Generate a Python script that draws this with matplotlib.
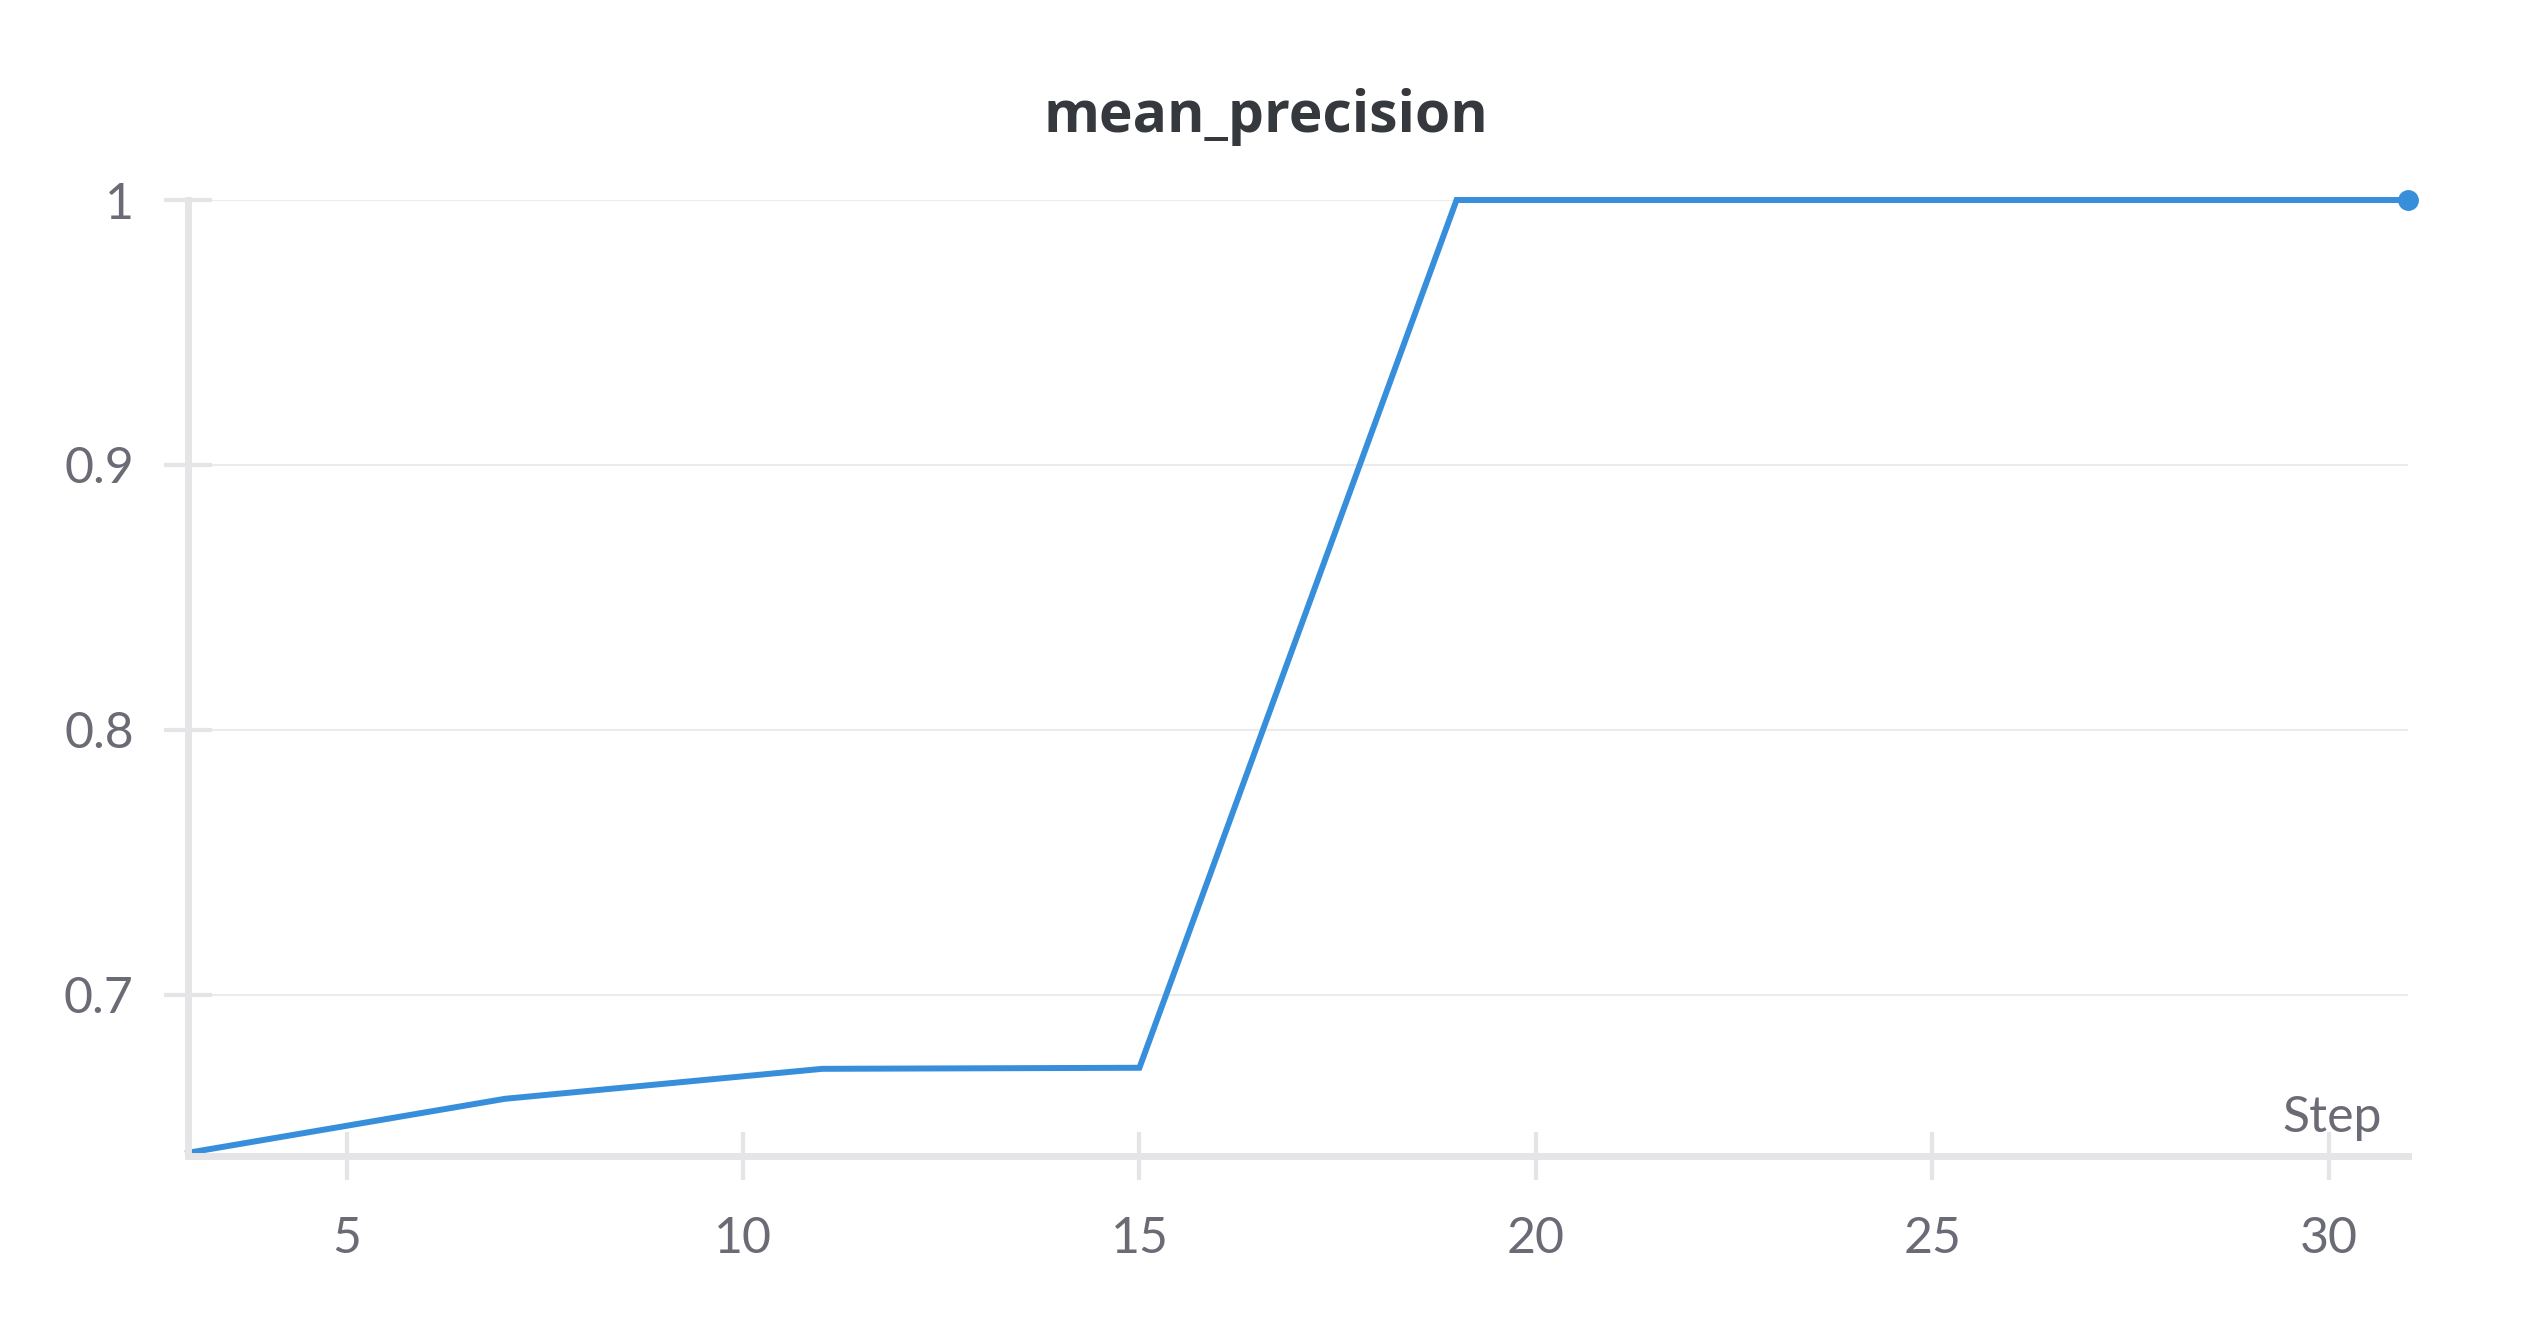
import matplotlib
matplotlib.use("Agg")
import matplotlib.pyplot as plt

# values
steps = [3, 7, 11, 15, 19, 23, 27, 31]
mean_precision = [0.6404, 0.6608, 0.6721, 0.6725, 1.0, 1.0, 1.0, 1.0]
x_ticks = [5, 10, 15, 20, 25, 30]
y_ticks = [0.7, 0.8, 0.9, 1.0]
y_tick_labels = ["0.7", "0.8", "0.9", "1"]

LINE = '#378fdb'
AXIS = '#e5e5e8'
GRID = '#ebebed'
TEXT = '#6b6b76'
TITLE = '#35383d'


def main() -> None:
    fig = plt.figure(figsize=(25.28, 13.28), dpi=100)
    ax = fig.add_axes([188 / 2528, 1 - 1156 / 1328, 2220 / 2528, 956 / 1328])

    ax.plot(steps, mean_precision, color=LINE, linewidth=4.3, clip_on=False,
            solid_joinstyle='miter', zorder=3)
    ax.plot(steps[-1], mean_precision[-1], 'o', color=LINE, markersize=14,
            clip_on=False, zorder=4)

    ax.set_xlim(3, 31)
    ax.set_ylim(0.6392, 1.0)

    for side in ('top', 'right'):
        ax.spines[side].set_visible(False)
    for side in ('left', 'bottom'):
        ax.spines[side].set_color(AXIS)
        ax.spines[side].set_linewidth(5)
        ax.spines[side].set_zorder(5)

    ax.set_xticks(x_ticks)
    ax.set_yticks(y_ticks)
    ax.set_yticklabels(y_tick_labels)
    ax.tick_params(axis='both', direction='inout', length=34, width=3,
                   color=AXIS, labelcolor=TEXT, labelsize=36)
    ax.tick_params(axis='x', pad=26)
    ax.tick_params(axis='y', pad=22)
    for lbl in ax.get_xticklabels() + ax.get_yticklabels():
        lbl.set_fontfamily('Lato')

    ax.yaxis.grid(True, color=GRID, linewidth=1.5, zorder=0)
    ax.set_axisbelow(True)

    ax.text(0.9883, 0.0251, 'Step', transform=ax.transAxes, ha='right',
            va='baseline', fontsize=36, color=TEXT, family='Lato')

    fig.text(1266 / 2528, 1 - 132 / 1328, 'mean_precision', ha='center',
             va='baseline', fontsize=41, color=TITLE, family='Open Sans',
             weight='bold')

    fig.savefig('out.png', dpi=100, facecolor='white')
    plt.close(fig)


if __name__ == "__main__":
    main()
